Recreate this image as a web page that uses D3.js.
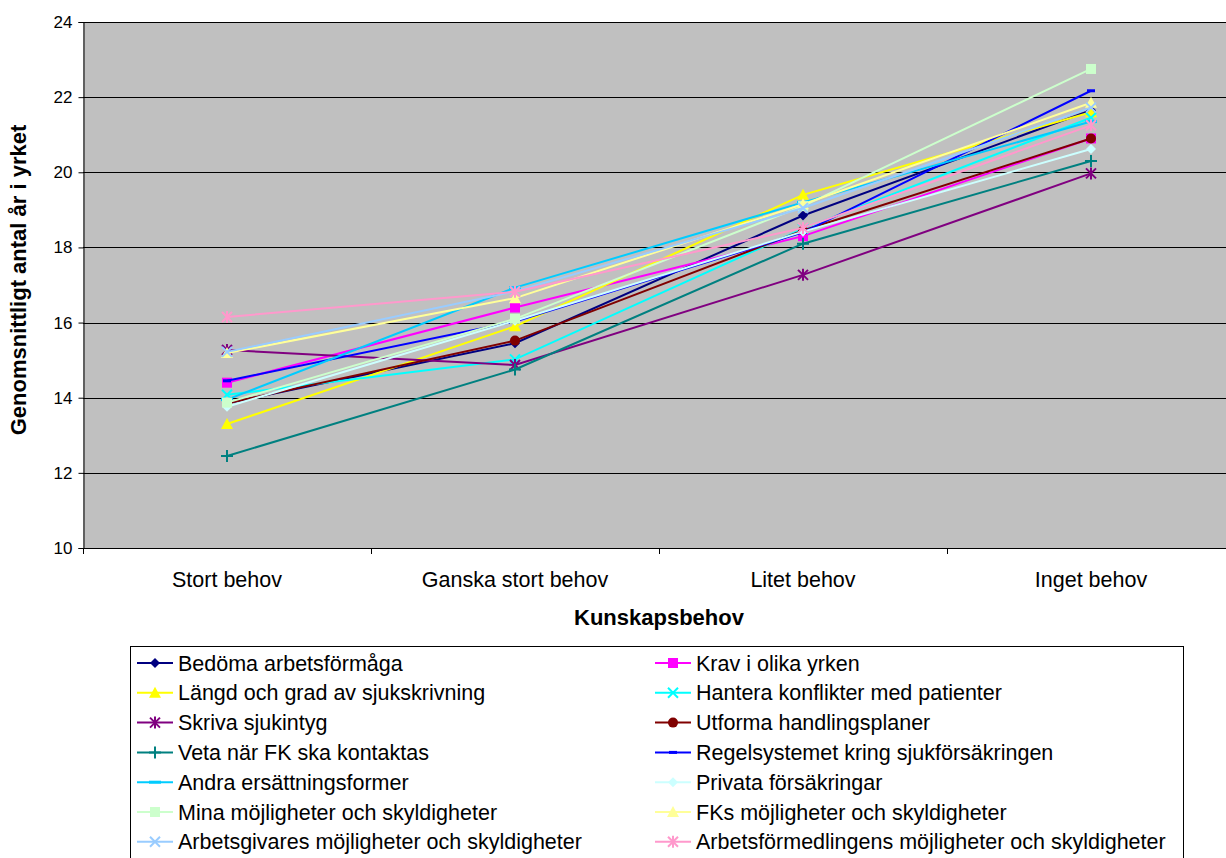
<!DOCTYPE html>
<html>
<head>
<meta charset="utf-8">
<script src="https://cdn.jsdelivr.net/npm/d3@7"></script>
<style>
  html, body { margin: 0; padding: 0; background: #ffffff; }
  svg { display: block; font-family: Arial, "Liberation Sans", sans-serif; }
</style>
</head>
<body>
<svg id="chart" width="1226" height="858"></svg>
<script>
// Categories (x axis) and y ticks
const categories = ["Stort behov", "Ganska stort behov", "Litet behov", "Inget behov"];
const yTicks = [10, 12, 14, 16, 18, 20, 22, 24];

// Series names
const seriesNames = [
  "Bedöma arbetsförmåga",
  "Krav i olika yrken",
  "Längd och grad av sjukskrivning",
  "Hantera konflikter med patienter",
  "Skriva sjukintyg",
  "Utforma handlingsplaner",
  "Veta när FK ska kontaktas",
  "Regelsystemet kring sjukförsäkringen",
  "Andra ersättningsformer",
  "Privata försäkringar",
  "Mina möjligheter och skyldigheter",
  "FKs möjligheter och skyldigheter",
  "Arbetsgivares möjligheter och skyldigheter",
  "Arbetsförmedlingens möjligheter och skyldigheter"
];

// Mean years in the profession per knowledge need, one array per series
const bedoma        = [13.85, 15.45, 18.85, 21.65];
const krav          = [14.40, 16.40, 18.30, 20.90];
const langd         = [13.30, 15.90, 19.40, 21.60];
const hantera       = [14.08, 15.02, 18.50, 21.45];
const skriva        = [15.27, 14.87, 17.27, 19.97];
const utforma       = [13.85, 15.52, 18.45, 20.90];
const veta          = [12.45, 14.75, 18.10, 20.30];
const regelsystemet = [14.45, 16.03, 18.40, 22.17];
const andra         = [13.95, 16.93, 19.20, 21.35];
const privata       = [13.76, 16.05, 18.42, 20.62];
const mina          = [13.87, 16.10, 19.10, 22.75];
const fks           = [15.19, 16.65, 19.15, 21.85];
const arbetsgivare  = [15.22, 16.83, 19.05, 21.72];
const arbetsform    = [16.15, 16.82, 18.52, 21.25];

const seriesValues = [bedoma, krav, langd, hantera, skriva, utforma, veta,
  regelsystemet, andra, privata, mina, fks, arbetsgivare, arbetsform];

const colors = ["#000080", "#FF00FF", "#FFFF00", "#00FFFF", "#800080", "#800000", "#008080",
  "#0000FF", "#00CCFF", "#CCFFFF", "#CCFFCC", "#FFFF99", "#99CCFF", "#FF99CC"];
const markers = ["diamond", "square", "triangle", "x", "star", "circle", "plus",
  "dash", "longdash", "diamond", "square", "triangle", "x", "star"];

const svg = d3.select("#chart");

const plot = { left: 83, top: 22, right: 1235, bottom: 548 };

const x = d3.scaleBand().domain(categories).range([plot.left, plot.right]);
const y = d3.scaleLinear().domain([10, 24]).range([plot.bottom, plot.top]);

// Plot area background
svg.append("rect")
  .attr("x", plot.left).attr("y", plot.top)
  .attr("width", plot.right - plot.left).attr("height", plot.bottom - plot.top)
  .attr("fill", "#C0C0C0");

// Horizontal gridlines
svg.append("g").selectAll("line")
  .data(yTicks.filter(t => t > 10))
  .join("line")
  .attr("x1", plot.left).attr("x2", plot.right)
  .attr("y1", d => Math.round(y(d)) + 0.5).attr("y2", d => Math.round(y(d)) + 0.5)
  .attr("stroke", "#000").attr("stroke-width", 1);

// Y axis
const yAxis = svg.append("g")
  .attr("transform", `translate(${plot.left + 0.5},0)`)
  .call(d3.axisLeft(y).tickValues(yTicks).tickSize(5).tickPadding(6));
yAxis.select(".domain").attr("stroke", "#000");
yAxis.selectAll(".tick line").attr("stroke", "#000");
yAxis.selectAll("text").attr("font-size", 17).attr("fill", "#000")
  .attr("font-family", "Arial, 'Liberation Sans', sans-serif");

// X axis with ticks on category boundaries
svg.append("line")
  .attr("x1", plot.left).attr("x2", plot.right)
  .attr("y1", plot.bottom + 0.5).attr("y2", plot.bottom + 0.5)
  .attr("stroke", "#000");
svg.append("g").selectAll("line")
  .data(categories)
  .join("line")
  .attr("x1", d => Math.round(x(d)) + 0.5).attr("x2", d => Math.round(x(d)) + 0.5)
  .attr("y1", plot.bottom).attr("y2", plot.bottom + 6)
  .attr("stroke", "#000");
svg.append("g").selectAll("text")
  .data(categories)
  .join("text")
  .attr("x", d => x(d) + x.bandwidth() / 2)
  .attr("y", 587)
  .attr("text-anchor", "middle")
  .attr("font-size", 21.5)
  .text(d => d);

// Axis titles
svg.append("text")
  .attr("x", 659).attr("y", 625)
  .attr("text-anchor", "middle")
  .attr("font-size", 22).attr("font-weight", "bold")
  .text("Kunskapsbehov");
svg.append("text")
  .attr("transform", `translate(26,280) rotate(-90)`)
  .attr("text-anchor", "middle")
  .attr("font-size", 22).attr("font-weight", "bold")
  .text("Genomsnittligt antal år i yrket");

// Marker shapes centred on 0,0
function markerPath(type) {
  const p = d3.path();
  const s = 5;
  switch (type) {
    case "diamond":
      p.moveTo(0, -s); p.lineTo(s, 0); p.lineTo(0, s); p.lineTo(-s, 0); p.closePath(); break;
    case "square":
      p.rect(-s, -s, 2 * s, 2 * s); break;
    case "triangle":
      p.moveTo(0, -s - 1); p.lineTo(s + 1, s); p.lineTo(-s - 1, s); p.closePath(); break;
    case "circle":
      p.arc(0, 0, s, 0, 2 * Math.PI); break;
    case "dash":
      p.rect(-4, -1.5, 8, 3); break;
    case "longdash":
      p.rect(-6, -1.5, 12, 3); break;
    default:
      break;
  }
  return p.toString();
}
function strokeMarkerPath(type) {
  const p = d3.path();
  const s = 5;
  if (type === "x" || type === "star") {
    p.moveTo(-s, -s); p.lineTo(s, s); p.moveTo(s, -s); p.lineTo(-s, s);
  }
  if (type === "star" || type === "plus") {
    p.moveTo(0, -s - 1); p.lineTo(0, s + 1);
  }
  if (type === "plus") {
    p.moveTo(-s - 1, 0); p.lineTo(s + 1, 0);
  }
  return p.toString();
}
function drawMarker(g, type, color) {
  if (["x", "star", "plus"].includes(type)) {
    g.append("path").attr("d", strokeMarkerPath(type))
      .attr("stroke", color).attr("stroke-width", 2).attr("fill", "none");
  } else {
    g.append("path").attr("d", markerPath(type)).attr("fill", color).attr("stroke", "none");
  }
}

// Series lines and markers
const line = d3.line()
  .x((d, i) => x(categories[i]) + x.bandwidth() / 2)
  .y(d => y(d));

const seriesG = svg.append("g");
seriesValues.forEach((vals, si) => {
  const g = seriesG.append("g");
  g.append("path")
    .attr("d", line(vals))
    .attr("fill", "none")
    .attr("stroke", colors[si])
    .attr("stroke-width", 2);
  vals.forEach((v, i) => {
    const mg = g.append("g")
      .attr("transform", `translate(${x(categories[i]) + x.bandwidth() / 2},${y(v)})`);
    drawMarker(mg, markers[si], colors[si]);
  });
});

// Legend
const legend = svg.append("g");
legend.append("rect")
  .attr("x", 130.5).attr("y", 646.5)
  .attr("width", 1053).attr("height", 240)
  .attr("fill", "#fff").attr("stroke", "#000");

seriesNames.forEach((name, si) => {
  const col = si % 2;
  const row = Math.floor(si / 2);
  const lx = col === 0 ? 137 : 655;
  const ly = 663 + row * 29.8;
  const g = legend.append("g");
  g.append("line")
    .attr("x1", lx).attr("x2", lx + 36)
    .attr("y1", ly).attr("y2", ly)
    .attr("stroke", colors[si]).attr("stroke-width", 2);
  const mg = g.append("g").attr("transform", `translate(${lx + 18},${ly})`);
  drawMarker(mg, markers[si], colors[si]);
  g.append("text")
    .attr("x", lx + 41).attr("y", ly + 7.5)
    .attr("font-size", 21.5)
    .text(name);
});
</script>
</body>
</html>
